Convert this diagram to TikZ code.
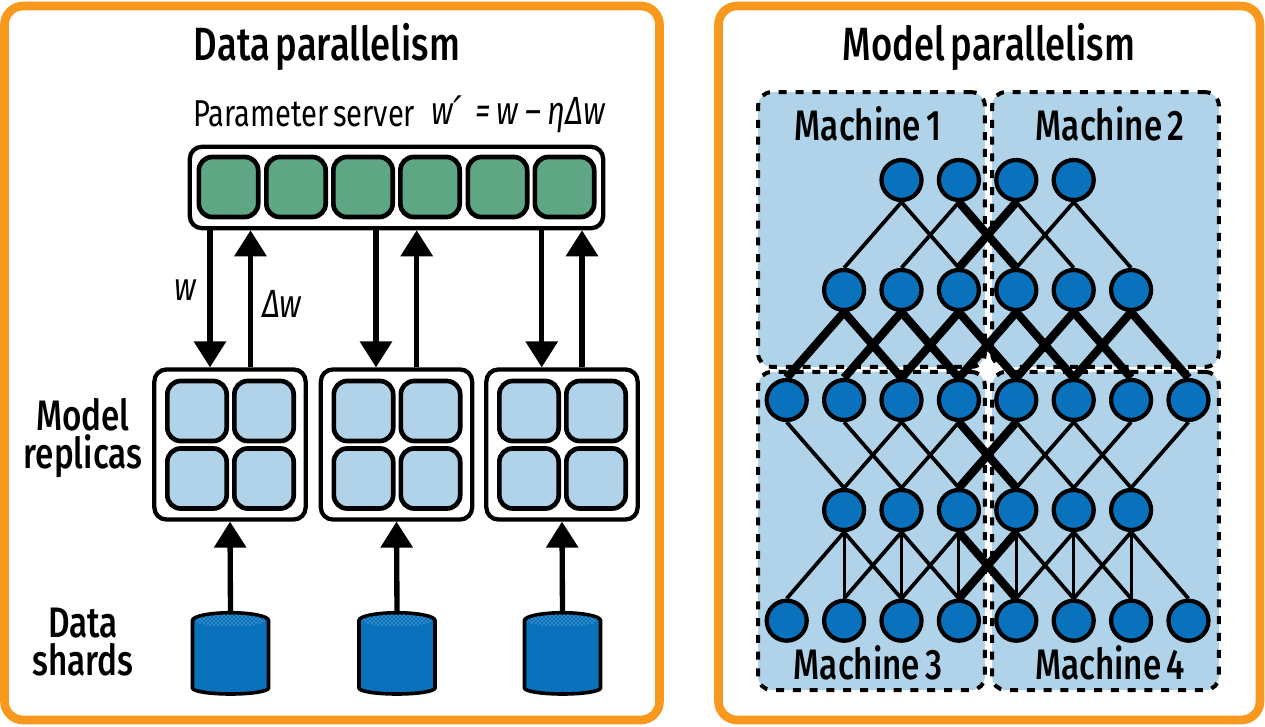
\documentclass[tikz,border=0pt]{standalone}
\usepackage{fontspec}
\usetikzlibrary{arrows.meta,patterns,backgrounds}
\setmainfont{Fira Sans}[FakeStretch=0.78,WordSpace=0.6]
\newfontfamily\medfont{Fira Sans Medium}[FakeStretch=0.78,WordSpace=0.6]
\newfontfamily\primefont{DejaVu Sans}
\definecolor{framecol}{HTML}{F8981D}
\definecolor{servercol}{HTML}{5EA684}
\definecolor{palecol}{HTML}{B0D3E9}
\definecolor{bluecol}{HTML}{0A72BC}
\tikzset{
  panel/.style={draw=framecol,line width=6.5pt,rounded corners=14pt,fill=white},
  holder/.style={draw,line width=3.2pt,rounded corners=9pt,fill=white,inner sep=0pt},
  cell/.style={draw,line width=3.5pt,rounded corners=10pt,inner sep=0pt,minimum width=44.5pt,minimum height=45pt},
  servercell/.style={cell,fill=servercol},
  replicacell/.style={cell,fill=palecol},
  shardbox/.style={inner sep=0pt,minimum width=59pt,minimum height=62pt},
  flow/.style={line width=4pt,-{Triangle[length=19.5pt,width=23.5pt]}},
  machine/.style={draw,line width=3pt,dash pattern=on 6pt off 6.6pt,rounded corners=10pt,fill=palecol,inner sep=0pt,minimum width=170pt,minimum height=206pt},
  neuron/.style={circle,draw,line width=3.2pt,fill=bluecol,inner sep=0pt,minimum size=30pt},
  thinedge/.style={line width=2.8pt},
  uprightedge/.style={line width=2.2pt},
  thickedge/.style={line width=6.2pt},
  lbl/.style={inner sep=0pt,align=center,font=\medfont\fontsize{32}{28}\selectfont},
  smalllbl/.style={inner sep=0pt,font=\fontsize{28}{28}\selectfont},
  mathlbl/.style={inner sep=0pt,font=\fontsize{29.5}{29.5}\selectfont\itshape},
  titlelbl/.style={inner sep=0pt,font=\medfont\fontsize{35}{35}\selectfont},
}
\begin{document}
\begin{tikzpicture}[x=0.75pt,y=-0.75pt]
\useasboundingbox (0,0) rectangle (1265,727);
\begin{pgfonlayer}{background}
  \fill[white] (0,0) rectangle (1265,727);
  \draw[panel] (4.5,6) rectangle (659.5,720);
  \draw[panel] (718.5,6) rectangle (1260,720);
  \node[machine] (machine1) at (871.5,229.5) {};
  \node[machine] (machine2) at (1105.5,229.5) {};
  \node[machine,minimum height=238.5pt] (machine3) at (871.5,531) {};
  \node[machine,minimum height=238.5pt] (machine4) at (1105.5,531) {};
\end{pgfonlayer}

% left panel
\node[titlelbl] (datatitle) at (327,47) {Data parallelism};
\node[smalllbl,anchor=west] (servername) at (193,114) {Parameter server};
\node[mathlbl,anchor=west] (rule) at (431,114) {w{\primefont ′}\,\,=\,w\,–\,ηΔw};
\node[holder,minimum width=310pt,minimum height=61pt] (server) at (396.5,187.5) {};
\foreach \i/\cx in {1/228.5,2/296,3/363,4/430,5/497.5,6/564.5}
  \node[servercell] (sc\i) at (\cx,187) {};
\foreach \n/\dx in {1/0,2/166.5,3/332} {
  \node[holder,minimum width=113.5pt,minimum height=112.5pt] (rep\n) at (230+\dx,444.5) {};
  \node[replicacell] (rep\n a) at (197+\dx,411) {};
  \node[replicacell] (rep\n b) at (264+\dx,411) {};
  \node[replicacell] (rep\n c) at (197+\dx,478.5) {};
  \node[replicacell] (rep\n d) at (264+\dx,478.5) {};
  \node[shardbox] (shard\n) at (230.5+\dx,653.5) {};
  \begin{scope}[shift={(\dx,0)}]
    \draw[line width=2.7pt,fill=bluecol] (192.5,620.5) arc[start angle=180,end angle=360,x radius=38,y radius=7.75]
      -- (268.5,688) arc[start angle=0,end angle=180,x radius=38,y radius=6] -- cycle;
    \fill[pattern=crosshatch dots,pattern color=palecol] (230.5,620.5) ellipse[x radius=35,y radius=6];
  \end{scope}
  \draw[flow] (shard\n.north) -- (rep\n.south);
}
\coordinate (down1) at (210,0);
\coordinate (up1) at (250.5,0);
\coordinate (down2) at (376,0);
\coordinate (up2) at (416.7,0);
\coordinate (down3) at (541.7,0);
\coordinate (up3) at (582,0);
\foreach \n in {1,2,3} {
  \draw[flow] (server.south -| down\n) -- (rep\n.north -| down\n);
  \draw[flow] (rep\n.north -| up\n) -- (server.south -| up\n);
}
\node[mathlbl] (wlabel) at (185,290) {w};
\node[mathlbl] (dwlabel) at (282,304) {Δw};
\node[lbl] (modellabel) at (83,438) {Model\\replicas};
\node[lbl] (datalabel) at (83,642) {Data\\shards};

% right panel
\node[titlelbl] (modeltitle) at (989,47) {Model parallelism};
\node[lbl] (m1label) at (868,124) {Machine 1};
\node[lbl] (m2label) at (1110,124) {Machine 2};
\node[lbl] (m3label) at (868,663) {Machine 3};
\node[lbl] (m4label) at (1110,663) {Machine 4};
% rows a to e, columns 0 to 7
\foreach \c in {2,...,5} \node[neuron] (a\c) at (786.7+57.4*\c,180) {};
\foreach \c in {1,...,6} \node[neuron] (b\c) at (786.7+57.4*\c,290) {};
\foreach \c in {0,...,7} \node[neuron] (c\c) at (786.7+57.4*\c,400) {};
\foreach \c in {1,...,6} \node[neuron] (d\c) at (786.7+57.4*\c,510) {};
\foreach \c in {0,...,7} \node[neuron] (e\c) at (786.7+57.4*\c,620.7) {};
\begin{pgfonlayer}{background}
  \foreach \p/\q in {a2/b1,a2/b3,a3/b2,a4/b5,a5/b4,a5/b6,
    c0/d1,c1/d2,c2/d1,c2/d3,c3/d2,c4/d5,c5/d4,c5/d6,c6/d5,c7/d6,
    d1/e0,d1/e2,d2/e1,d2/e3,d3/e2,d4/e5,d5/e4,d5/e6,d6/e5,d6/e7}
    \draw[thinedge] (\p.south) -- (\q.north);
  \foreach \p/\q in {d1/e1,d2/e2,d3/e3,d4/e4,d5/e5,d6/e6}
    \draw[uprightedge] (\p.south) -- (\q.north);
  \foreach \p/\q in {a3/b4,a4/b3,c3/d4,c4/d3,d3/e4,d4/e3,
    b1/c0,b1/c2,b2/c1,b2/c3,b3/c2,b3/c4,b4/c3,b4/c5,b5/c4,b5/c6,b6/c5,b6/c7}
    \draw[thickedge] (\p.south) -- (\q.north);
\end{pgfonlayer}
\end{tikzpicture}
\end{document}
